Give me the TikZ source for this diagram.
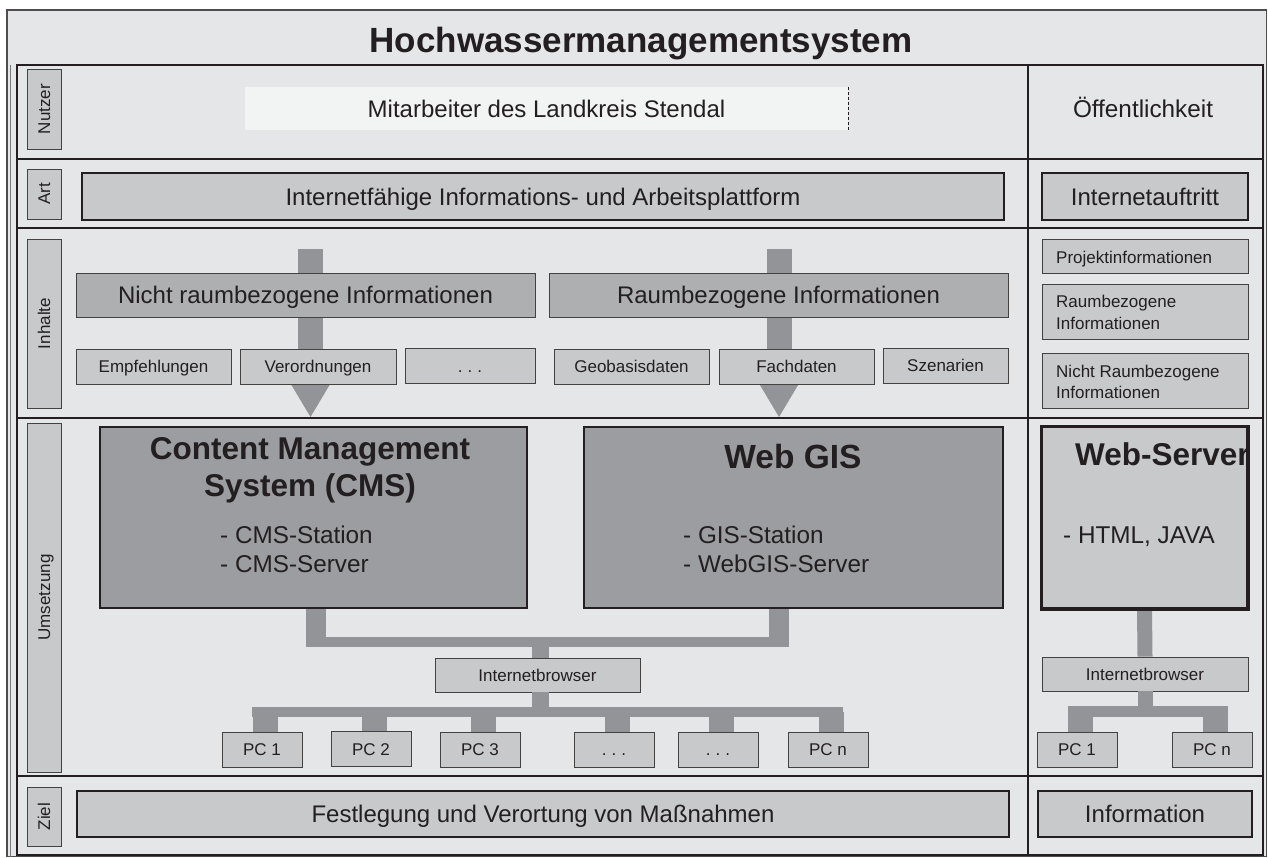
\documentclass[tikz,border=0pt]{standalone}
\usepackage{fontspec}
\setmainfont{Liberation Sans}
\usetikzlibrary{calc}
\definecolor{bg}{HTML}{E5E6E8}
\definecolor{lbox}{HTML}{C8C9CB}
\definecolor{mbox}{HTML}{AEAFB1}
\definecolor{dbox}{HTML}{9C9DA0}
\definecolor{barc}{HTML}{939497}
\definecolor{ink}{HTML}{231F20}
\definecolor{mitc}{HTML}{F2F3F3}
\tikzset{
  bigfont/.style={font=\fontsize{24}{28}\selectfont, text height=17.2, text depth=0},
  smallfont/.style={font=\fontsize{17}{22}\selectfont, text height=12.2, text depth=0},
  lbl/.style={draw=ink!85, line width=0.8, fill=lbox, text=ink, inner sep=0, smallfont},
  vlabel/.style={lbl, rotate=90, minimum height=34},
  thickbox/.style={draw=ink, line width=2.5, fill=lbox, inner sep=0, text=ink, bigfont},
  medbox/.style={draw=ink!85, line width=0.8, fill=mbox, inner sep=0, text=ink, bigfont},
  bigbox/.style={draw=ink, line width=2.5, fill=dbox, inner sep=0},
  pcbox/.style={lbl, minimum width=80, minimum height=35},
  bar/.style={draw=barc, line cap=butt},
  tline/.style={draw=ink, line width=2},
  btitle/.style={font=\bfseries\fontsize{31.5}{36}\selectfont, text=ink, inner sep=0},
  ltext/.style={font=\fontsize{24.3}{28}\selectfont, text=ink, inner sep=0},
  stext/.style={font=\fontsize{17}{22}\selectfont, text=ink, inner sep=0},
}
\begin{document}
\begin{tikzpicture}[x=1pt,y=-1pt]
\useasboundingbox (0,0) rectangle (1268,857);
\fill[white] (0,0) rectangle (1268,857);
% outer frame
\draw[fill=bg, draw=ink!80, line width=1.5] (7,10) rectangle (1266.5,856.5);
\draw[ink!60, line width=0.6] (10.5,65) -- (10.5,856.5);
% title
\node[font=\bfseries\fontsize{35}{42}\selectfont, text=ink, anchor=base, inner sep=0] (title) at (641,52) {Hochwassermanagementsystem};
% table
\draw[tline] (17,65) rectangle (1263,855);
\foreach \yy in {159,228,418,776} {\draw[tline] (17,\yy) -- (1263,\yy);}
\draw[tline] (1028,65) -- (1028,855);

% row labels
\node[vlabel, minimum width=80] (lNutzer) at (44,109) {Nutzer};
\node[vlabel, minimum width=50] (lArt) at (44,194) {Art};
\node[vlabel, minimum width=169] (lInhalte) at (44,323.5) {Inhalte};
\node[vlabel, minimum width=349] (lUms) at (44,597.5) {Umsetzung};
\node[vlabel, minimum width=59] (lZiel) at (44,816.5) {Ziel};

% Nutzer row
\node[fill=mitc, minimum width=603, minimum height=43, inner sep=0, text=ink, bigfont] (mit) at (546.5,108.5) {Mitarbeiter des Landkreis Stendal};
\draw[ink, line width=0.8, dash pattern=on 3pt off 2pt] (mit.north east) -- (mit.south east);
\node[ltext, anchor=base] (oeff) at (1143,117) {Öffentlichkeit};

% Art row
\node[thickbox, minimum width=922, minimum height=47] (plattform) at (543,196.5) {Internetfähige Informations- und Arbeitsplattform};
\node[thickbox, minimum width=206, minimum height=47] (auftritt) at (1145,196.5) {Internetauftritt};

% Inhalte row: arrows
\fill[barc] (298,249) rectangle (323,372);
\fill[barc] (282.5,370) -- (338.5,370) -- (310.5,417) -- cycle;
\fill[barc] (767,249) rectangle (792,372);
\fill[barc] (751,370) -- (807,370) -- (779,417) -- cycle;

\node[medbox, minimum width=459, minimum height=44] (nrinfo) at (305.5,295) {Nicht raumbezogene Informationen};
\node[medbox, minimum width=459, minimum height=44] (rinfo) at (778.5,295) {Raumbezogene Informationen};

\node[lbl, minimum width=155, minimum height=35] (empf) at (153.5,366.5) {Empfehlungen};
\node[lbl, minimum width=156, minimum height=35] (verord) at (318,366.5) {Verordnungen};
\node[lbl, minimum width=130, minimum height=35] (dots1) at (470,366) {.\hspace{5pt}.\hspace{5pt}.};
\node[lbl, minimum width=155, minimum height=35] (geob) at (631.5,366.5) {Geobasisdaten};
\node[lbl, minimum width=155, minimum height=35] (fach) at (796.5,366.5) {Fachdaten};
\node[lbl, minimum width=125, minimum height=35] (szen) at (945.5,365.5) {Szenarien};

\node[lbl, minimum width=206, minimum height=34] (projb) at (1145,256) {};
\node[stext, anchor=base west] (projt) at (1056,263) {Projektinformationen};
\node[lbl, minimum width=206, minimum height=55] (raumb) at (1145,311.5) {};
\node[stext, anchor=base west] (raumt1) at (1056,307) {Raumbezogene};
\node[stext, anchor=base west] (raumt2) at (1056,329) {Informationen};
\node[lbl, minimum width=206, minimum height=55] (nraumb) at (1145,380.5) {};
\node[stext, anchor=base west] (nraumt1) at (1056,377) {Nicht Raumbezogene};
\node[stext, anchor=base west] (nraumt2) at (1056,398) {Informationen};

% Umsetzung row
\coordinate (j1) at (540.5,642);
\coordinate (j2) at (547,712);
\coordinate (j3) at (1145,711.5);

\node[bigbox, minimum width=427, minimum height=181] (cms) at (313.5,517.5) {};
\node[bigbox, minimum width=419, minimum height=181] (gis) at (793.5,517.5) {};
\node[bigbox, fill=lbox, minimum width=205, minimum height=181] (ws) at (1144.5,517.5) {};

\node[lbl, minimum width=205, minimum height=34] (ib) at (537.5,675) {Internetbrowser};
\node[lbl, minimum width=206, minimum height=34] (ib2) at (1145,674) {Internetbrowser};

\node[pcbox] (pc1) at (262,749.5) {PC 1};
\node[pcbox] (pc2) at (371,749) {PC 2};
\node[pcbox] (pc3) at (480,749.5) {PC 3};
\node[pcbox] (pc4) at (614,749.5) {.\hspace{5pt}.\hspace{5pt}.};
\node[pcbox] (pc5) at (718,749.5) {.\hspace{5pt}.\hspace{5pt}.};
\node[pcbox] (pcn) at (828,749.5) {PC n};
\node[pcbox] (pcr1) at (1077,749.5) {PC 1};
\node[pcbox] (pcrn) at (1212,749.5) {PC n};

% bars
\draw[bar, line width=20] ([xshift=2.5]cms.south) -- ([xshift=2.5]cms.south |- j1);
\draw[bar, line width=20] ([xshift=-14.5]gis.south) -- ([xshift=-14.5]gis.south |- j1);
\draw[bar, line width=10] ([xshift=-7.5]cms.south |- j1) -- ([xshift=-4.5]gis.south |- j1);
\draw[bar, line width=17] ([xshift=3]ib.north) -- ([xshift=3]ib.north |- j1);
\draw[bar, line width=17] ([xshift=3]ib.south) -- ([xshift=3]ib.south |- j2);
\draw[bar, line width=10] ([xshift=-10]pc1.north |- j2) -- ([xshift=15]pcn.north |- j2);
\foreach \n in {pc1,pc2,pc3,pc4,pc5,pcn} {
  \draw[bar, line width=25] ([xshift=3]\n.north) -- ([xshift=3]\n.north |- j2);
}
\draw[bar, line width=15] (ws.south) -- (ib2.north);
\draw[bar, line width=15] (ib2.south) -- (ib2.south |- j3);
\draw[bar, line width=11] ([xshift=-9]pcr1.north |- j3) -- ([xshift=16]pcrn.north |- j3);
\draw[bar, line width=25] ([xshift=3.5]pcr1.north) -- ([xshift=3.5]pcr1.north |- j3);
\draw[bar, line width=25] ([xshift=3]pcrn.north) -- ([xshift=3]pcrn.north |- j3);

% box texts
\node[btitle, anchor=base] (cmst1) at (310,459) {Content Management};
\node[btitle, anchor=base] (cmst2) at (310,496) {System (CMS)};
\node[ltext, anchor=base west] (cmsl1) at (220,543) {- CMS-Station};
\node[ltext, anchor=base west] (cmsl2) at (220,572) {- CMS-Server};
\node[btitle, font=\bfseries\fontsize{33.5}{38}\selectfont, anchor=base] (gist) at (793,468) {Web GIS};
\node[ltext, anchor=base west] (gisl1) at (683,543) {- GIS-Station};
\node[ltext, anchor=base west] (gisl2) at (683,572) {- WebGIS-Server};
\begin{scope}
\clip (ws.north west) rectangle (ws.south east);
\node[btitle, anchor=base west] (wst) at (1075,465) {Web-Server};
\end{scope}
\node[ltext, anchor=base west] (wsl) at (1063,543) {- HTML, JAVA};
\draw[ink, line width=2.5] (ws.north west) rectangle (ws.south east);

% Ziel row
\node[thickbox, minimum width=932, minimum height=46] (massn) at (543,814) {Festlegung und Verortung von Maßnahmen};
\node[thickbox, minimum width=214, minimum height=46] (info) at (1145,814) {Information};
\end{tikzpicture}
\end{document}
